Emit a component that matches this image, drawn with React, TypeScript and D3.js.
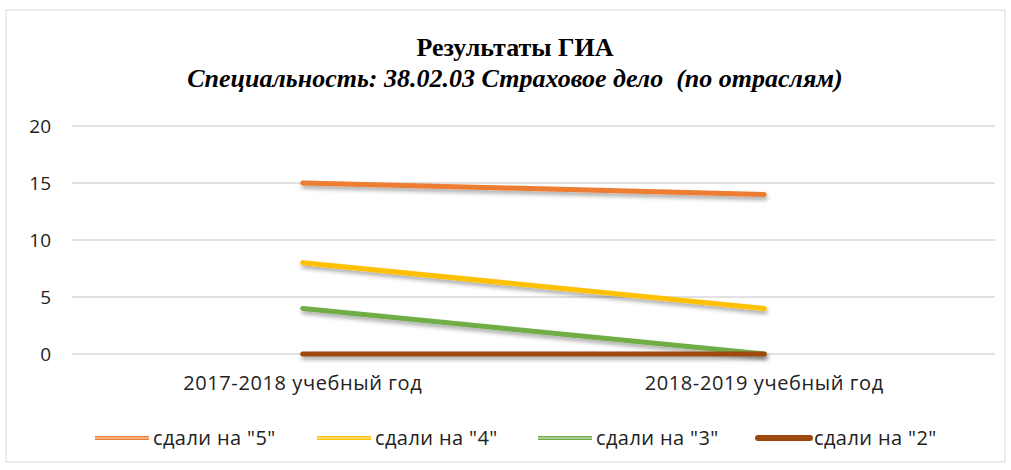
import React, { useEffect, useRef } from "react";
import * as d3 from "d3";

// categories and series
const years = ["2017-2018 учебный год", "2018-2019 учебный год"];
const seriesNames = ['сдали на "5"', 'сдали на "4"', 'сдали на "3"', 'сдали на "2"'];
const grade5 = [15, 14];
const grade4 = [8, 4];
const grade3 = [4, 0];
const grade2 = [0, 0];
const yTicks = [0, 5, 10, 15, 20];
const colors = ["#ED7D31", "#FFC000", "#70AD47", "#9E480E"];

const W = 1011, H = 470;

export default function App() {
  const ref = useRef<SVGSVGElement>(null);

  useEffect(() => {
    const svg = d3.select(ref.current);
    svg.selectAll("*").remove();

    const margin = { top: 126, right: 16, bottom: 116, left: 72 };
    const x = d3.scaleBand().domain(years).range([margin.left, W - margin.right]);
    const y = d3.scaleLinear().domain([0, 20]).range([H - margin.bottom, margin.top]);

    // shadow for the lines (user space, otherwise a flat line has an empty filter box)
    const defs = svg.append("defs");
    const f = defs.append("filter").attr("id", "shadow")
      .attr("filterUnits", "userSpaceOnUse")
      .attr("x", 0).attr("y", 0).attr("width", W).attr("height", H);
    f.append("feDropShadow").attr("dx", 1).attr("dy", 3).attr("stdDeviation", 2)
      .attr("flood-color", "#000").attr("flood-opacity", 0.35);

    // chart frame
    svg.append("rect").attr("x", 6).attr("y", 10).attr("width", W - 12).attr("height", H - 18)
      .attr("fill", "#fff").attr("stroke", "#d9d9d9");

    // titles
    svg.append("text").attr("x", 515).attr("y", 56).attr("text-anchor", "middle")
      .style("font-family", "'Liberation Serif', serif").style("font-weight", "bold")
      .style("font-size", "26px").text("Результаты ГИА");
    svg.append("text").attr("x", 515).attr("y", 87).attr("text-anchor", "middle")
      .style("font-family", "'Liberation Serif', serif").style("font-weight", "bold")
      .style("font-style", "italic").style("font-size", "26px").style("white-space", "pre")
      .text("Специальность: 38.02.03 Страховое дело  (по отраслям)");

    // gridlines
    svg.append("g").selectAll("line").data(yTicks).enter().append("line")
      .attr("x1", margin.left).attr("x2", W - margin.right)
      .attr("y1", d => y(d)).attr("y2", d => y(d))
      .attr("stroke", "#d9d9d9").attr("stroke-width", 1.3);

    // y labels
    svg.append("g").selectAll("text").data(yTicks).enter().append("text")
      .attr("x", 51).attr("y", d => y(d)).attr("dy", "0.35em").attr("text-anchor", "end")
      .style("font-family", "'Open Sans', sans-serif").style("font-size", "19px")
      .attr("fill", "#222").text(d => d);

    // x labels
    svg.append("g").selectAll("text").data(years).enter().append("text")
      .attr("x", d => x(d)! + x.bandwidth() / 2).attr("y", 390).attr("text-anchor", "middle")
      .style("font-family", "'Open Sans', sans-serif").style("font-size", "20px")
      .style("letter-spacing", "0.6px")
      .attr("fill", "#222").text(d => d);

    const all = [grade5, grade4, grade3, grade2];
    const line = d3.line<number>()
      .x((d, i) => x(years[i])! + x.bandwidth() / 2)
      .y(d => y(d));

    all.forEach((vals, i) => {
      svg.append("path").datum(vals).attr("d", line)
        .attr("fill", "none").attr("stroke", colors[i]).attr("stroke-width", 5)
        .attr("stroke-linecap", "round").attr("filter", "url(#shadow)");
    });

    // legend
    const legendX = [95, 317, 538, 756];
    const lg = svg.append("g");
    seriesNames.forEach((name, i) => {
      const g = lg.append("g").attr("transform", `translate(${legendX[i]},438)`);
      if (i === 3) {
        g.append("line").attr("x1", 2).attr("x2", 54).attr("stroke", colors[i])
          .attr("stroke-width", 6).attr("stroke-linecap", "round");
      } else {
        g.append("line").attr("x1", 0).attr("x2", 54).attr("stroke", colors[i]).attr("stroke-width", 4);
        g.append("line").attr("x1", 0).attr("x2", 54).attr("stroke", "#fff")
          .attr("stroke-width", 1).attr("opacity", 0.8);
      }
      g.append("text").attr("x", 58).attr("dy", "0.35em")
        .style("font-family", "'Open Sans', sans-serif").style("font-size", "20px")
        .style("letter-spacing", "0.4px")
        .attr("fill", "#222").text(name);
    });
  }, []);

  return (
    <svg ref={ref} width={W} height={H}
      style={{ position: "absolute", left: 0, top: 0, background: "#fff" }} />
  );
}
